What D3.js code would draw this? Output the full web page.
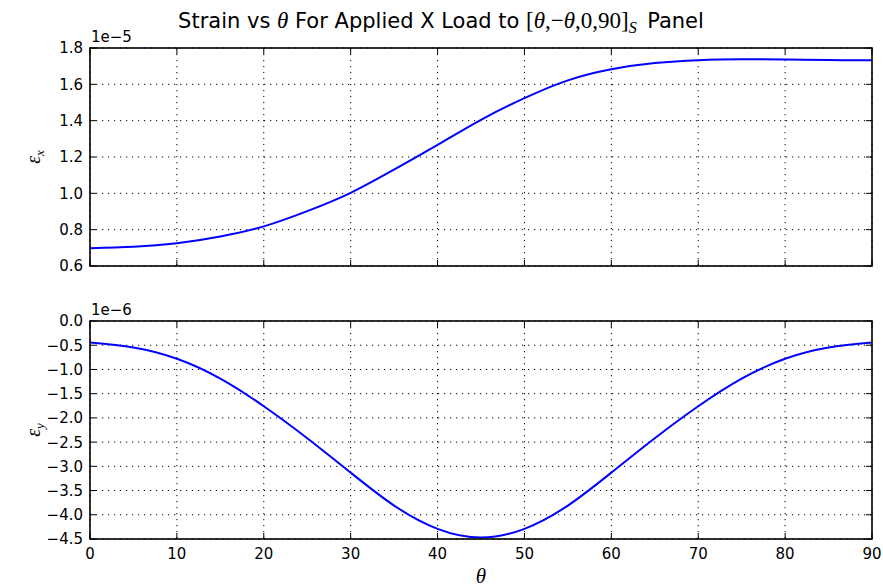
<!DOCTYPE html>
<html>
<head>
<meta charset="utf-8">
<script src="https://cdn.jsdelivr.net/npm/d3@7"></script>
<style>
  body { margin: 0; background: #fff; }
  svg { font-family: "DejaVu Sans", sans-serif; }
  .math { font-family: "Liberation Serif", "DejaVu Serif", serif; }
</style>
</head>
<body>
<svg id="chart" width="883" height="588"></svg>
<script>
// theta in degrees
var theta = [0, 5, 10, 15, 20, 25, 30, 35, 40, 45, 50, 55, 60, 65, 70, 75, 80, 85, 90];
// strain in x, units of 1e-5
var epsX = [0.698, 0.706, 0.725, 0.762, 0.818, 0.902, 1.003, 1.131, 1.267, 1.405,
            1.524, 1.622, 1.683, 1.717, 1.733, 1.738, 1.737, 1.734, 1.732];
// strain in y, units of 1e-6
var epsY = [-0.446, -0.548, -0.78, -1.19, -1.76, -2.42, -3.13, -3.81, -4.29, -4.47,
            -4.29, -3.81, -3.13, -2.42, -1.76, -1.19, -0.78, -0.548, -0.446];

var xTicks = [0, 10, 20, 30, 40, 50, 60, 70, 80, 90];
var yTicksTop = [0.6, 0.8, 1.0, 1.2, 1.4, 1.6, 1.8];
var yTicksBot = [0.0, -0.5, -1.0, -1.5, -2.0, -2.5, -3.0, -3.5, -4.0, -4.5];

var svg = d3.select("#chart");
var left = 90, right = 872;

var x = d3.scaleLinear().domain([0, 90]).range([left, right]);

var panels = [
  { top: 48, bottom: 266, domain: [0.6, 1.8], ticks: yTicksTop, values: epsX,
    exp: "1e\u22125", sub: "x", fmt: d3.format(".1f"), xlabels: false },
  { top: 321, bottom: 539, domain: [-4.5, 0.0], ticks: yTicksBot, values: epsY,
    exp: "1e\u22126", sub: "y", fmt: function(d) { return d3.format(".1f")(d).replace("-", "\u2212"); }, xlabels: true }
];

var tickLen = 6;

panels.forEach(function(p) {
  var y = d3.scaleLinear().domain(p.domain).range([p.bottom, p.top]);
  var g = svg.append("g");

  // grid
  g.selectAll(".vgrid").data(xTicks).enter().append("line")
    .attr("x1", function(d) { return x(d); }).attr("x2", function(d) { return x(d); })
    .attr("y1", p.top).attr("y2", p.bottom)
    .attr("stroke", "#000").attr("stroke-width", 1)
    .attr("stroke-dasharray", "1.2,4.8");
  g.selectAll(".hgrid").data(p.ticks).enter().append("line")
    .attr("x1", left).attr("x2", right)
    .attr("y1", function(d) { return y(d); }).attr("y2", function(d) { return y(d); })
    .attr("stroke", "#000").attr("stroke-width", 1)
    .attr("stroke-dasharray", "1.2,4.8");

  // ticks pointing inward, all four sides
  g.selectAll(".tb").data(xTicks).enter().append("line")
    .attr("x1", function(d) { return x(d); }).attr("x2", function(d) { return x(d); })
    .attr("y1", p.bottom).attr("y2", p.bottom - tickLen)
    .attr("stroke", "#000");
  g.selectAll(".tt").data(xTicks).enter().append("line")
    .attr("x1", function(d) { return x(d); }).attr("x2", function(d) { return x(d); })
    .attr("y1", p.top).attr("y2", p.top + tickLen)
    .attr("stroke", "#000");
  g.selectAll(".tl").data(p.ticks).enter().append("line")
    .attr("x1", left).attr("x2", left + tickLen)
    .attr("y1", function(d) { return y(d); }).attr("y2", function(d) { return y(d); })
    .attr("stroke", "#000");
  g.selectAll(".tr").data(p.ticks).enter().append("line")
    .attr("x1", right).attr("x2", right - tickLen)
    .attr("y1", function(d) { return y(d); }).attr("y2", function(d) { return y(d); })
    .attr("stroke", "#000");

  // curve
  var line = d3.line()
    .x(function(d, i) { return x(theta[i]); })
    .y(function(d) { return y(d); })
    .curve(d3.curveNatural);

  g.append("path")
    .datum(p.values)
    .attr("fill", "none")
    .attr("stroke", "#0000ff")
    .attr("stroke-width", 2)
    .attr("stroke-linejoin", "round")
    .attr("d", line);

  // frame
  g.append("rect")
    .attr("x", left).attr("y", p.top)
    .attr("width", right - left).attr("height", p.bottom - p.top)
    .attr("fill", "none").attr("stroke", "#000").attr("stroke-width", 1.6);

  // y tick labels
  g.selectAll(".yl").data(p.ticks).enter().append("text")
    .attr("x", left - 7)
    .attr("y", function(d) { return y(d); })
    .attr("dy", "0.36em")
    .attr("text-anchor", "end")
    .attr("font-size", 15)
    .text(p.fmt);

  // offset text
  g.append("text")
    .attr("x", left + 1).attr("y", p.top - 6)
    .attr("font-size", 15)
    .text(p.exp);

  // y axis label
  var yl = g.append("text")
    .attr("class", "math")
    .attr("transform", "translate(" + 40 + "," + ((p.top + p.bottom) / 2) + ") rotate(-90)")
    .attr("text-anchor", "middle")
    .attr("font-size", 20)
    .attr("font-style", "italic");
  yl.append("tspan").text("\u03b5");
  yl.append("tspan").attr("font-size", 13).attr("dy", 4).text(p.sub);

  if (p.xlabels) {
    g.selectAll(".xl").data(xTicks).enter().append("text")
      .attr("x", function(d) { return x(d); })
      .attr("y", p.bottom + 20)
      .attr("text-anchor", "middle")
      .attr("font-size", 15)
      .text(function(d) { return d; });
  }
});

// x label
svg.append("text")
  .attr("class", "math")
  .attr("x", x(45)).attr("y", 583)
  .attr("text-anchor", "middle")
  .attr("font-size", 21)
  .attr("font-style", "italic")
  .text("\u03b8");

// title
var title = svg.append("text")
  .attr("x", 441).attr("y", 28)
  .attr("text-anchor", "middle")
  .attr("font-size", 21);
title.append("tspan").text("Strain vs ");
title.append("tspan").attr("class", "math").attr("font-style", "italic").attr("font-size", 23).text("\u03b8");
title.append("tspan").text(" For Applied X Load to ");
title.append("tspan").attr("class", "math").attr("font-size", 23).text("[");
title.append("tspan").attr("class", "math").attr("font-size", 23).attr("font-style", "italic").text("\u03b8");
title.append("tspan").attr("class", "math").attr("font-size", 23).text(",\u2212");
title.append("tspan").attr("class", "math").attr("font-size", 23).attr("font-style", "italic").text("\u03b8");
title.append("tspan").attr("class", "math").attr("font-size", 23).text(",0,90]");
title.append("tspan").attr("class", "math").attr("font-style", "italic")
  .attr("font-size", 16).attr("dy", 5).text("S");
title.append("tspan").attr("dy", -5).text("\u2002Panel");
</script>
</body>
</html>
